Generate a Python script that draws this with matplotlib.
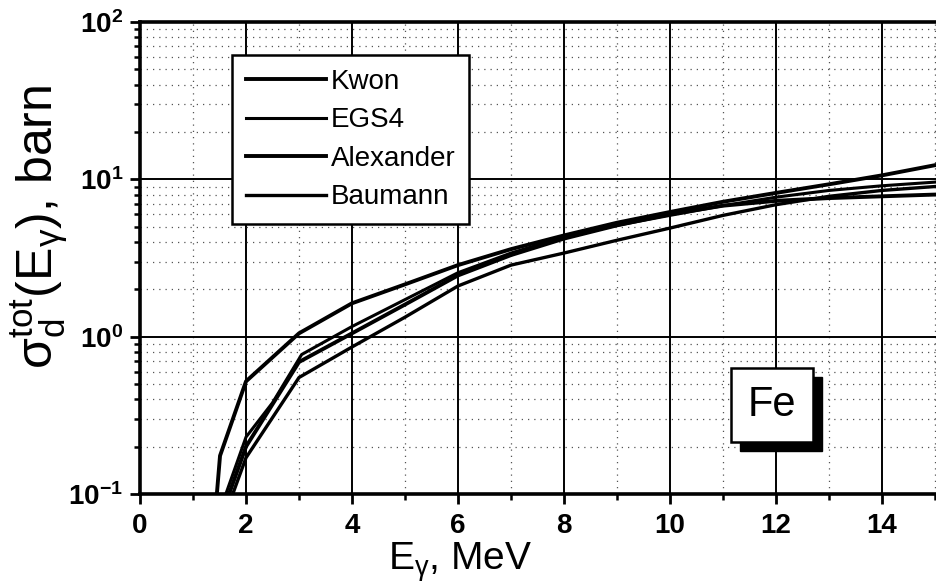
import matplotlib
matplotlib.use("Agg")
import matplotlib.pyplot as plt
from matplotlib.patches import Rectangle
from matplotlib.ticker import FixedLocator, MultipleLocator, LogLocator, NullFormatter

plt.rcParams['font.family'] = ['Liberation Sans', 'DejaVu Sans']
plt.rcParams['mathtext.fontset'] = 'custom'
plt.rcParams['mathtext.rm'] = 'Liberation Sans'
plt.rcParams['mathtext.it'] = 'Liberation Sans:italic'
plt.rcParams['mathtext.bf'] = 'Liberation Sans:bold'
plt.rcParams['axes.unicode_minus'] = False

# photon energy (MeV) and total cross section (barn) for each model
kwon_e = [1.45, 1.51, 2.0, 3.0, 4.0, 5.0, 6.0, 7.0, 8.0, 9.0, 10.0, 11.0, 12.0, 13.0, 14.0, 15.0, 16.0]
kwon_s = [0.1, 0.175, 0.52, 1.05, 1.63, 2.15, 2.85, 3.6, 4.4, 5.3, 6.2, 7.2, 8.2, 9.3, 10.6, 12.3, 14.0]

egs4_e = [1.62, 2.0, 2.5, 3.05, 4.0, 5.0, 6.0, 7.0, 8.0, 9.0, 10.0, 11.0, 12.0, 13.0, 14.0, 15.0, 16.0]
egs4_s = [0.1, 0.23, 0.38, 0.77, 1.16, 1.72, 2.55, 3.4, 4.3, 5.1, 5.9, 6.8, 7.7, 8.5, 9.1, 9.6, 10.1]

alex_e = [1.68, 2.0, 3.0, 4.0, 5.0, 6.0, 7.0, 8.0, 9.0, 10.0, 11.0, 12.0, 13.0, 14.0, 15.0, 16.0]
alex_s = [0.1, 0.2, 0.69, 1.05, 1.6, 2.45, 3.3, 4.2, 5.1, 6.0, 6.8, 7.3, 7.6, 7.8, 8.0, 8.2]

baum_e = [1.75, 2.0, 3.0, 4.0, 5.0, 6.0, 7.0, 8.0, 9.0, 10.0, 11.0, 12.0, 13.0, 14.0, 15.0, 16.0]
baum_s = [0.1, 0.17, 0.55, 0.86, 1.33, 2.1, 2.85, 3.4, 4.1, 4.9, 5.9, 6.9, 7.8, 8.5, 9.0, 9.4]

x_ticks = [0, 2, 4, 6, 8, 10, 12, 14]

fig = plt.figure(figsize=(9.36, 5.88), dpi=100)
ax = fig.add_axes([140 / 936, 94 / 588, 848 / 936, 472 / 588])

ax.plot(kwon_e, kwon_s, color='black', lw=2.8, label='Kwon', zorder=3)
ax.plot(egs4_e, egs4_s, color='black', lw=2.2, label='EGS4', zorder=3)
ax.plot(alex_e, alex_s, color='black', lw=2.8, label='Alexander', zorder=3)
ax.plot(baum_e, baum_s, color='black', lw=2.4, label='Baumann', zorder=3)

ax.set_yscale('log')
ax.set_xlim(0, 16)
ax.set_ylim(0.1, 100)

ax.xaxis.set_major_locator(FixedLocator(x_ticks))
ax.xaxis.set_minor_locator(MultipleLocator(1))
ax.yaxis.set_major_locator(LogLocator(base=10))
ax.yaxis.set_minor_locator(LogLocator(base=10, subs=range(2, 10)))
ax.yaxis.set_minor_formatter(NullFormatter())

ax.grid(which='major', color='black', lw=1.4, ls='-')
ax.grid(which='minor', color='#555555', lw=0.9, ls=(0, (1, 4)))
ax.set_axisbelow(True)

for side in ['left', 'bottom', 'top']:
    ax.spines[side].set_linewidth(2.6)
ax.spines['right'].set_visible(False)

ax.tick_params(which='major', direction='out', length=7, width=2, labelsize=20, pad=7)
ax.tick_params(which='minor', direction='out', length=4, width=1.8)
ax.tick_params(axis='y', pad=5)
for lab in ax.get_xticklabels() + ax.get_yticklabels():
    lab.set_fontweight('bold')

ax.set_xlabel(r'E$_{\mathrm{\gamma}}$, MeV', fontsize=28)
ax.xaxis.set_label_coords(0.377, -0.098)
ax.set_ylabel(r'$\mathrm{\sigma}_{\mathrm{d}}^{\mathrm{tot}}(\mathrm{E}_{\mathrm{\gamma}})$, barn',
              fontsize=36)
ax.yaxis.set_label_coords(-0.082, 0.566)

leg = ax.legend(loc='upper left', bbox_to_anchor=(0.1085, 0.93), borderaxespad=0,
                fontsize=20, handlelength=2.9, handletextpad=0.15, labelspacing=0.45,
                borderpad=0.5, frameon=True, fancybox=False)
leg.get_frame().set_edgecolor('black')
leg.get_frame().set_linewidth(1.8)
leg.get_frame().set_alpha(1)
leg.set_zorder(5)

# element tag with drop shadow
bx, by, bw, bh = 0.697, 0.110, 0.0967, 0.157
ax.add_patch(Rectangle((bx + 0.0106, by - 0.019), bw, bh, transform=ax.transAxes,
                       facecolor='black', edgecolor='black', zorder=6))
ax.add_patch(Rectangle((bx, by), bw, bh, transform=ax.transAxes,
                       facecolor='white', edgecolor='black', lw=1.8, zorder=7))
ax.text(bx + bw / 2, by + bh / 2, 'Fe', transform=ax.transAxes, fontsize=30,
        ha='center', va='center', zorder=8)

fig.savefig('out.png', dpi=100)
